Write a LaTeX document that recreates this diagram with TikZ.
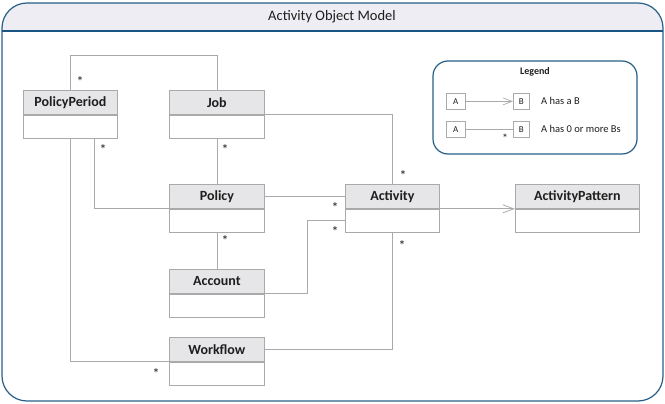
\documentclass[tikz,border=0pt]{standalone}
\usepackage{fontspec}
\setmainfont{Carlito}
\usetikzlibrary{arrows.meta,calc}
\definecolor{linegray}{RGB}{170,170,170}
\definecolor{hdrfill}{RGB}{230,230,232}
\definecolor{bandfill}{RGB}{237,237,243}
\definecolor{framecol}{RGB}{40,95,135}
\definecolor{sepcol}{RGB}{25,85,130}
\definecolor{txt}{RGB}{30,30,30}
\tikzset{
  hdr/.style={draw=linegray, fill=hdrfill, line width=0.8pt, minimum height=24pt, inner sep=0pt, font=\fontsize{14}{16}\selectfont\bfseries, text=txt},
  bdy/.style={draw=linegray, fill=white, line width=0.8pt, minimum height=23pt, inner sep=0pt},
  conn/.style={draw=linegray, line width=0.8pt},
  star/.style={inner sep=0pt, font=\fontsize{14}{16}\selectfont, text=txt},
  lbox/.style={draw=linegray, line width=0.7pt, inner sep=0pt, minimum height=16pt, font=\fontsize{9}{11}\selectfont, text=txt},
  ltext/.style={anchor=west, inner sep=0pt, font=\fontsize{10.5}{12}\selectfont, text=txt},
  barb/.style={-{Straight Barb[length=11pt,width=8pt]}},
}
\newcommand\umlclass[5]{%
  \node[hdr, minimum width=#4, anchor=north west] (#1) at (#2,#3) {#5};
  \node[bdy, minimum width=#4, anchor=north] (#1-b) at (#1.south) {};
}
\begin{document}
\begin{tikzpicture}[x=1pt,y=-1pt]
\useasboundingbox (0,0) rectangle (665,404);
% frame
\begin{scope}
  \clip[rounded corners=25] (2,3) rectangle (663,401);
  \fill[bandfill] (2,3) rectangle (663,31);
\end{scope}
\draw[framecol, line width=1.2pt, rounded corners=25] (2,3) rectangle (663,401);
\draw[sepcol, line width=1.2pt] (2,31) -- (663,31);
\node[font=\fontsize{14.5}{16}\selectfont, text=txt] (title) at (332,17) {Activity Object Model};

% classes
\umlclass{pp}{23}{90}{94}{PolicyPeriod}
\umlclass{job}{169}{90}{95}{Job}
\umlclass{pol}{169}{184}{95}{Policy}
\umlclass{acc}{169}{269}{95}{Account}
\umlclass{wf}{169}{337}{95}{Workflow}
\umlclass{act}{345}{184}{94}{Activity}
\umlclass{ap}{515}{184}{124}{ActivityPattern}

% connectors
\draw[conn] ($(pp.north west)+(47,0)$) -- ++(0,-35) -| (job.north);
\draw[conn] ($(pp-b.south west)+(71,0)$) |- (pol.south west);
\draw[conn] (job-b.south) -- (pol.north);
\draw[conn] (job.south east) -| (act.north);
\draw[conn] (pol.east) -- (act.west);
\draw[conn] (acc.south east) -- ++(43,0) |- (act-b.west);
\draw[conn] (pol-b.south) -- (acc.north);
\draw[conn] (wf.east) -| (act-b.south);
\draw[conn] ($(pp-b.south west)+(47,0)$) |- (wf.south west);
\draw[conn, barb] (act.south east) -- (ap.south west);

% multiplicities
\node[star] (s1) at (80,82) {*};
\node[star] (s2) at (103,150) {*};
\node[star] (s3) at (225,150) {*};
\node[star] (s4) at (403,176) {*};
\node[star] (s5) at (335,208) {*};
\node[star] (s6) at (335,232) {*};
\node[star] (s7) at (225,241) {*};
\node[star] (s8) at (402,246) {*};
\node[star] (s9) at (156,374) {*};

% legend
\draw[framecol, line width=1.2pt, rounded corners=15] (433,61) rectangle (637,154);
\node[font=\fontsize{10}{12}\selectfont\bfseries, text=txt] (lt) at (535,72) {Legend};
\node[lbox, minimum width=19pt, anchor=north west] (la1) at (446,93) {A};
\node[lbox, minimum width=16pt, anchor=north west] (lb1) at (513,93) {B};
\draw[conn, line width=0.7pt, -{Straight Barb[length=9pt,width=7pt]}] (la1.east) -- (lb1.west);
\node[ltext] (lx1) at (541,101) {A has a B};
\node[lbox, minimum width=19pt, anchor=north west] (la2) at (446,121) {A};
\node[lbox, minimum width=16pt, anchor=north west] (lb2) at (513,121) {B};
\draw[conn, line width=0.7pt] (la2.east) -- (lb2.west);
\node[star, font=\fontsize{12}{14}\selectfont] (s10) at (505,138) {*};
\node[ltext] (lx2) at (541,129) {A has 0 or more Bs};
\end{tikzpicture}
\end{document}
